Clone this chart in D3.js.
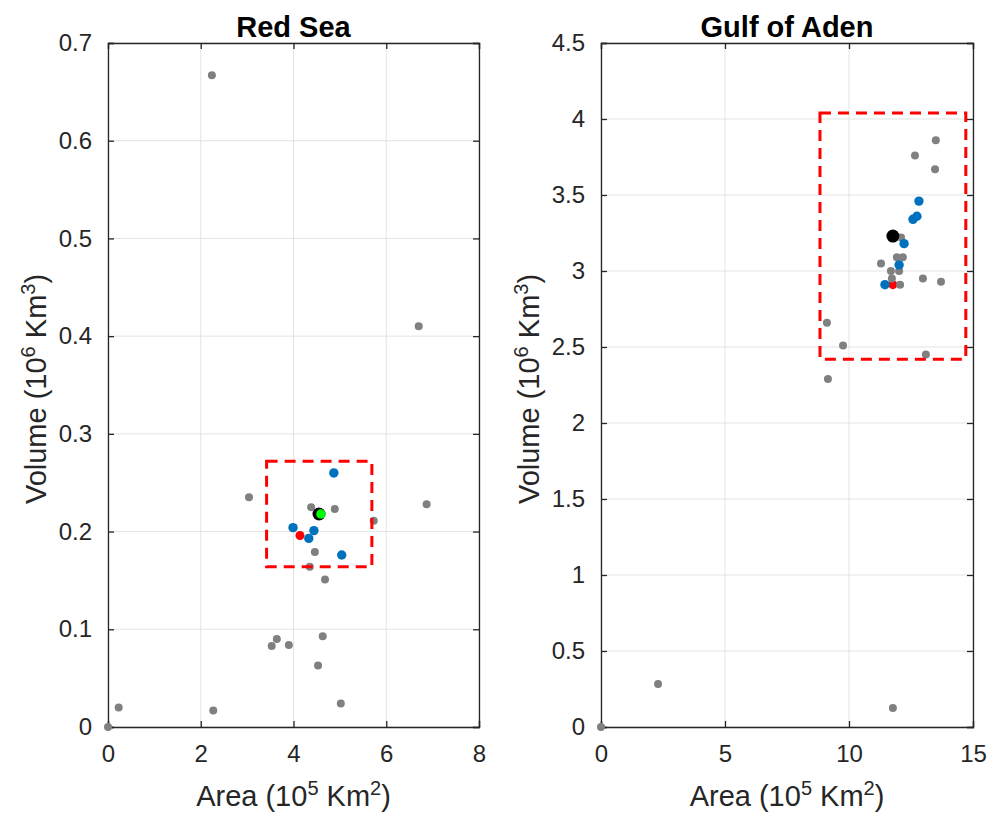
<!DOCTYPE html>
<html><head><meta charset="utf-8">
<script src="https://cdn.jsdelivr.net/npm/d3@7"></script>
<style>body{margin:0;background:#fff}svg{display:block}</style>
</head><body>
<svg id="c" width="1003" height="815"></svg>
<script>
// ---- Red Sea data (Area 10^5 km^2, Volume 10^6 km^3)
const redGrayX = [2.24, 6.70, 6.87, 3.04, 5.73, 4.38, 4.89, 4.46, 4.35, 4.68, 3.64, 3.53, 3.90, 4.63, 4.53, 5.02, 0.23, 2.27, 0.00];
const redGrayY = [0.667, 0.410, 0.228, 0.235, 0.211, 0.225, 0.223, 0.179, 0.164, 0.151, 0.090, 0.083, 0.084, 0.093, 0.063, 0.024, 0.020, 0.017, 0.000];
const redBlueX = [4.87, 3.99, 4.44, 4.33, 5.04];
const redBlueY = [0.260, 0.204, 0.201, 0.193, 0.176];
const redRedX = [4.14], redRedY = [0.196];
const redBlackX = [4.55], redBlackY = [0.218];
const redGreenX = [4.59], redGreenY = [0.218];
const redBoxX = [3.42, 5.69], redBoxY = [0.164, 0.272];
const redXTicks = [0, 2, 4, 6, 8];
const redYTicks = [0, 0.1, 0.2, 0.3, 0.4, 0.5, 0.6, 0.7];

// ---- Gulf of Aden data
const gulfGrayX = [13.5, 12.66, 13.47, 12.1, 11.93, 12.17, 11.29, 11.69, 12.02, 11.73, 12.06, 12.98, 13.71, 9.11, 9.76, 13.1, 9.15, 2.30, 11.77, 0.0];
const gulfGrayY = [3.86, 3.76, 3.67, 3.22, 3.09, 3.09, 3.05, 3.00, 3.00, 2.95, 2.91, 2.95, 2.93, 2.66, 2.51, 2.45, 2.29, 0.283, 0.125, 0.0];
const gulfBlueX = [12.82, 12.74, 12.58, 12.22, 12.02, 11.45];
const gulfBlueY = [3.46, 3.36, 3.34, 3.18, 3.04, 2.91];
const gulfRedX = [11.77], gulfRedY = [2.91];
const gulfBlackX = [11.77], gulfBlackY = [3.23];
const gulfBoxX = [8.83, 14.71], gulfBoxY = [2.42, 4.04];
const gulfXTicks = [0, 5, 10, 15];
const gulfYTicks = [0, 0.5, 1, 1.5, 2, 2.5, 3, 3.5, 4, 4.5];

const svg = d3.select("#c");
const FONT = "'Liberation Sans', Arial, Helvetica, sans-serif";
const AX = "#262626";

function zip(xs, ys){ return xs.map((x,i)=>({x, y: ys[i]})); }

function panel(o){
  const g = svg.append("g");
  const x = d3.scaleLinear().domain(o.xd).range([o.left, o.right]);
  const y = d3.scaleLinear().domain(o.yd).range([o.bottom, o.top]);
  // grid
  g.append("g").selectAll("line.gx").data(o.xt).join("line")
    .attr("x1", d=>x(d)).attr("x2", d=>x(d)).attr("y1", o.top).attr("y2", o.bottom)
    .attr("stroke", "#e3e3e3").attr("stroke-width", 1);
  g.append("g").selectAll("line.gy").data(o.yt).join("line")
    .attr("y1", d=>y(d)).attr("y2", d=>y(d)).attr("x1", o.left).attr("x2", o.right)
    .attr("stroke", "#e3e3e3").attr("stroke-width", 1);
  // axes with inward ticks
  const fmt = d => String(+d.toFixed(2));
  const xa = g.append("g").attr("transform", `translate(0,${o.bottom})`)
    .call(d3.axisBottom(x).tickValues(o.xt).tickSize(-6).tickPadding(18).tickFormat(fmt));
  const xt = g.append("g").attr("transform", `translate(0,${o.top})`)
    .call(d3.axisTop(x).tickValues(o.xt).tickSize(-6).tickFormat(""));
  const ya = g.append("g").attr("transform", `translate(${o.left},0)`)
    .call(d3.axisLeft(y).tickValues(o.yt).tickSize(-6).tickPadding(16).tickFormat(fmt));
  const yr = g.append("g").attr("transform", `translate(${o.right},0)`)
    .call(d3.axisRight(y).tickValues(o.yt).tickSize(-6).tickFormat(""));
  [xa, xt, ya, yr].forEach(a=>{
    a.select(".domain").attr("stroke", AX).attr("stroke-width", 1.3);
    a.selectAll(".tick line").attr("stroke", AX).attr("stroke-width", 1.3);
    a.selectAll("text").attr("fill", AX).style("font-family", FONT).style("font-size", "24px");
  });
  // points
  const dot = (data, r, fill) => g.append("g").selectAll("circle").data(data).join("circle")
    .attr("cx", d=>x(d.x)).attr("cy", d=>y(d.y)).attr("r", r).attr("fill", fill);
  dot(zip(o.redX, o.redY), 4.5, "#ff0000");
  dot(zip(o.grayX, o.grayY), 4, "#808080");
  dot(zip(o.blueX, o.blueY), 4.7, "#0072bd");
  dot(zip(o.blackX, o.blackY), 6.5, "#000000");
  if (o.greenX) dot(zip(o.greenX, o.greenY), 4.7, "#00ff00");
  // dashed box
  g.append("rect")
    .attr("x", x(o.boxX[0])).attr("y", y(o.boxY[1]))
    .attr("width", x(o.boxX[1]) - x(o.boxX[0])).attr("height", y(o.boxY[0]) - y(o.boxY[1]))
    .attr("fill", "none").attr("stroke", "#ff0000").attr("stroke-width", 3)
    .attr("stroke-dasharray", "11,7");
  // title
  g.append("text").attr("x", (o.left+o.right)/2).attr("y", 37).attr("text-anchor", "middle")
    .style("font-family", FONT).style("font-size", "29px").style("font-weight", "bold")
    .attr("fill", "#000").text(o.title);
  // x label
  const xl = g.append("text").attr("x", (o.left+o.right)/2).attr("y", 806).attr("text-anchor", "middle")
    .style("font-family", FONT).style("font-size", "29px").attr("fill", AX);
  xl.append("tspan").text("Area (10");
  xl.append("tspan").attr("dy", -11).style("font-size", "20px").text("5");
  xl.append("tspan").attr("dy", 11).text(" Km");
  xl.append("tspan").attr("dy", -11).style("font-size", "20px").text("2");
  xl.append("tspan").attr("dy", 11).text(")");
  // y label
  const yl = g.append("text").attr("transform", `translate(${o.ylabX},389) rotate(-90)`)
    .attr("text-anchor", "middle")
    .style("font-family", FONT).style("font-size", "29px").attr("fill", AX);
  yl.append("tspan").text("Volume (10");
  yl.append("tspan").attr("dy", -11).style("font-size", "20px").text("6");
  yl.append("tspan").attr("dy", 11).text(" Km");
  yl.append("tspan").attr("dy", -11).style("font-size", "20px").text("3");
  yl.append("tspan").attr("dy", 11).text(")");
}

panel({
  left: 108, right: 479, top: 43, bottom: 727,
  xd: [0, 8], yd: [0, 0.7], xt: redXTicks, yt: redYTicks,
  grayX: redGrayX, grayY: redGrayY, blueX: redBlueX, blueY: redBlueY,
  redX: redRedX, redY: redRedY, blackX: redBlackX, blackY: redBlackY,
  greenX: redGreenX, greenY: redGreenY, boxX: redBoxX, boxY: redBoxY,
  title: "Red Sea", ylabX: 46
});
panel({
  left: 601, right: 973, top: 43, bottom: 727,
  xd: [0, 15], yd: [0, 4.5], xt: gulfXTicks, yt: gulfYTicks,
  grayX: gulfGrayX, grayY: gulfGrayY, blueX: gulfBlueX, blueY: gulfBlueY,
  redX: gulfRedX, redY: gulfRedY, blackX: gulfBlackX, blackY: gulfBlackY,
  boxX: gulfBoxX, boxY: gulfBoxY,
  title: "Gulf of Aden", ylabX: 539
});
</script>
</body></html>
